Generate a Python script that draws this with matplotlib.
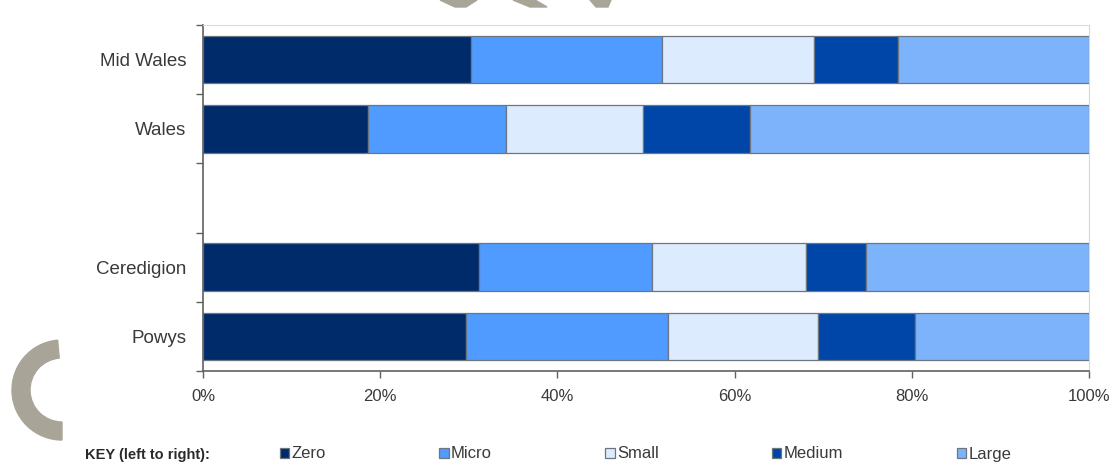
import numpy as np
import matplotlib.pyplot as plt
from matplotlib.patches import Wedge, Polygon

plt.rcParams['font.family'] = ['Liberation Sans', 'DejaVu Sans']

# areas top to bottom; the empty string leaves a gap row
areas = ["Mid Wales", "Wales", "", "Ceredigion", "Powys"]
sizes = ["Zero", "Micro", "Small", "Medium", "Large"]

# percentage share of each size band, per area (None for the gap row)
zero = [30.2, 18.6, None, 31.2, 29.7]
micro = [21.6, 15.6, None, 19.5, 22.8]
small = [17.2, 15.5, None, 17.4, 16.9]
medium = [9.4, 12.0, None, 6.7, 11.0]
large = [21.6, 38.3, None, 25.2, 19.6]

colours = ["#002b6b", "#4f9bff", "#dcebfd", "#0046a8", "#7db3fb"]
xticks = [0, 20, 40, 60, 80, 100]

W, H = 1119, 466
fig = plt.figure(figsize=(W / 100, H / 100), dpi=100)
ax = fig.add_axes([203 / W, 95 / H, 886 / W, 346 / H])

rows = [i for i, a in enumerate(areas) if a]
series = [zero, micro, small, medium, large]
left = np.zeros(len(rows))
for name, vals, col in zip(sizes, series, colours):
    v = np.array([vals[i] for i in rows])
    ax.barh(rows, v, left=left, height=0.69, color=col, label=name,
            edgecolor="#6d7580", linewidth=0.9)
    left += v

ax.set_xlim(0, 100)
ax.set_ylim(len(areas) - 0.5, -0.5)
ax.set_yticks(rows)
ax.set_yticklabels([areas[i] for i in rows])
ax.set_yticks(np.arange(-0.5, len(areas), 1.0), minor=True)
ax.set_xticks(xticks)
ax.set_xticklabels([f"{t}%" for t in xticks])
ax.tick_params(axis="y", which="major", length=0, pad=12,
               labelsize=13.5, labelcolor="#3a3a3a")
ax.tick_params(axis="y", which="minor", length=5, width=1, color="#606060")
ax.tick_params(axis="x", length=5, width=1, color="#606060", pad=8,
               labelsize=12, labelcolor="#3a3a3a")

for side in ["left", "bottom"]:
    ax.spines[side].set_color("#606060")
    ax.spines[side].set_linewidth(1.2)
ax.spines["top"].set_color("#e2d8d0")
ax.spines["right"].set_color("#d8d8d8")

# key row
fig.text(85 / W, 1 - 455 / H, "KEY (left to right):", fontsize=10.5,
         fontweight="bold", color="#2a2a2a", va="center")
fig.legend(loc="center left", bbox_to_anchor=(280 / W, 1 - 454 / H),
           ncol=5, frameon=False, fontsize=12, handlelength=0.55,
           handleheight=0.55, handletextpad=0.15, columnspacing=6.8,
           labelcolor="#3a3a3a", borderpad=0, borderaxespad=0)

# grey logo fragments in the margins, placed in pixel units
px = fig.dpi_scale_trans
grey = "#a8a598"
fig.patches.append(Wedge((0.62, (H - 390) / 100), 0.5, 95, 270, width=0.18,
                         transform=px, color=grey, zorder=0))
for pts in [[(440, 0), (477, 0), (466, 7), (455, 7)],
            [(513, 0), (535, 0), (547, 7), (530, 7)],
            [(590, 0), (611, 0), (608, 7), (596, 7)]]:
    fig.patches.append(Polygon([(x / 100, (H - y) / 100) for x, y in pts],
                               closed=True, transform=px, color=grey,
                               zorder=0))

fig.savefig("out.png", dpi=100)
